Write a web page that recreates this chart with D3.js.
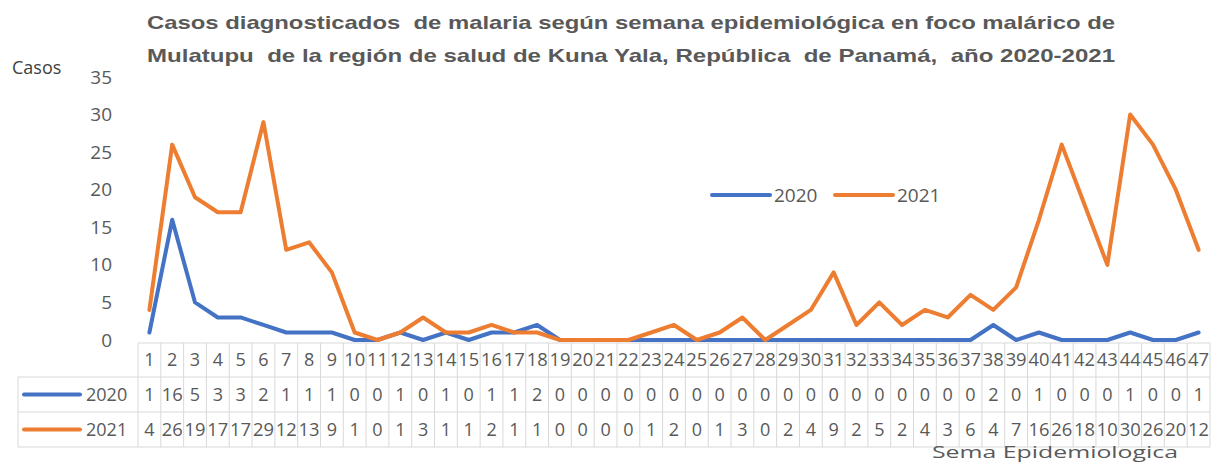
<!DOCTYPE html>
<html><head><meta charset="utf-8">
<script src="https://cdn.jsdelivr.net/npm/d3@7"></script>
<style>
html,body{margin:0;padding:0;background:#fff;}
svg{display:block;font-family:"Open Sans",sans-serif;}
</style></head>
<body><svg id="c" width="1211" height="463"></svg>
<script>
const weeks = d3.range(1, 48).map(String);
const cases2020 = [1,16,5,3,3,2,1,1,1,0,0,1,0,1,0,1,1,2,0,0,0,0,0,0,0,0,0,0,0,0,0,0,0,0,0,0,0,2,0,1,0,0,0,1,0,0,1];
const cases2021 = [4,26,19,17,17,29,12,13,9,1,0,1,3,1,1,2,1,1,0,0,0,0,1,2,0,1,3,0,2,4,9,2,5,2,4,3,6,4,7,16,26,18,10,30,26,20,12];
const seriesNames = ["2020","2021"];
const yTicks = [0,5,10,15,20,25,30,35];
const titleLines = ["Casos diagnosticados  de malaria según semana epidemiológica en foco malárico de",
                    "Mulatupu  de la región de salud de Kuna Yala, República  de Panamá,  año 2020-2021"];
const yTitle = "Casos";
const xTitle = "Sema Epidemiologica";
const colors = ["#4472C4","#ED7D31"];

const svg = d3.select("#c");
const x = d3.scaleBand().domain(weeks).range([138, 1210]).padding(0);
const y = d3.scaleLinear().domain([0, 35]).range([340, 77]);
const textCol = "#595959";

// title
svg.selectAll("text.title").data(titleLines).join("text")
  .attr("class","title")
  .attr("x", 147).attr("y", (d,i)=> 29 + i*33)
  .attr("textLength", 968).attr("lengthAdjust","spacingAndGlyphs")
  .attr("font-family","'Liberation Sans',sans-serif")
  .attr("font-weight","bold").attr("font-size", 19).attr("fill", textCol)
  .attr("xml:space","preserve").style("white-space","pre")
  .text(d=>d);

svg.append("text").attr("x", 12).attr("y", 74).attr("font-size", 18).attr("fill","#404040").text(yTitle);

// y axis
const ya = svg.append("g").attr("transform","translate(116,0)")
  .call(d3.axisLeft(y).tickValues(yTicks).tickSize(0).tickPadding(4));
ya.select(".domain").remove();
ya.selectAll("text").attr("font-family","'Open Sans',sans-serif").attr("font-size",19).attr("fill",textCol);

// lines
const series = [cases2020, cases2021];
const line = d3.line().x((d,i)=> x(weeks[i]) + x.bandwidth()/2).y(d=> y(d));
svg.selectAll("path.series").data(series).join("path")
  .attr("class","series")
  .attr("d", line).attr("fill","none")
  .attr("stroke",(d,i)=>colors[i]).attr("stroke-width",4)
  .attr("stroke-linejoin","round").attr("stroke-linecap","round");

// legend
const lg = svg.append("g");
const legX = [712, 835];
seriesNames.forEach((n,i)=>{
  lg.append("line").attr("x1",legX[i]).attr("x2",legX[i]+58).attr("y1",195).attr("y2",195)
    .attr("stroke",colors[i]).attr("stroke-width",4).attr("stroke-linecap","round");
  lg.append("text").attr("x",legX[i]+62).attr("y",202).attr("font-size",19).attr("fill",textCol).text(n);
});

// data table
const rowTop = [343, 377, 412, 447];
const grid = "#d9d9d9";
const tb = svg.append("g");
tb.append("line").attr("x1",138).attr("x2",1210).attr("y1",rowTop[0]).attr("y2",rowTop[0]).attr("stroke",grid);
[1,2,3].forEach(r=>{
  tb.append("line").attr("x1",18).attr("x2",1210).attr("y1",rowTop[r]).attr("y2",rowTop[r]).attr("stroke",grid);
});
tb.append("line").attr("x1",18).attr("x2",18).attr("y1",rowTop[1]).attr("y2",rowTop[3]).attr("stroke",grid);
weeks.forEach(w=>{
  tb.append("line").attr("x1",x(w)).attr("x2",x(w)).attr("y1",rowTop[0]).attr("y2",rowTop[3]).attr("stroke",grid);
});
tb.append("line").attr("x1",1210).attr("x2",1210).attr("y1",rowTop[0]).attr("y2",rowTop[3]).attr("stroke",grid);

const cellText = (txt, cx, cy) => tb.append("text").attr("x",cx).attr("y",cy)
  .attr("text-anchor","middle").attr("font-size",18).attr("fill",textCol)
  .attr("textLength", txt.length>1 ? 21 : null).attr("lengthAdjust","spacingAndGlyphs").text(txt);
weeks.forEach(w=> cellText(w, x(w)+x.bandwidth()/2, 366));
series.forEach((vals,s)=>{
  const cy = (rowTop[s+1]+rowTop[s+2])/2 + 6;
  vals.forEach((v,i)=> cellText(String(v), x(weeks[i])+x.bandwidth()/2, cy));
  tb.append("line").attr("x1",24).attr("x2",80).attr("y1",cy-6).attr("y2",cy-6)
    .attr("stroke",colors[s]).attr("stroke-width",4).attr("stroke-linecap","round");
  tb.append("text").attr("x",86).attr("y",cy).attr("font-size",18).attr("fill",textCol).text(seriesNames[s]);
});

svg.append("text").attr("x",932).attr("y",458).attr("font-size",17).attr("fill",textCol)
  .attr("textLength",246).attr("lengthAdjust","spacingAndGlyphs").text(xTitle);
</script></body></html>
